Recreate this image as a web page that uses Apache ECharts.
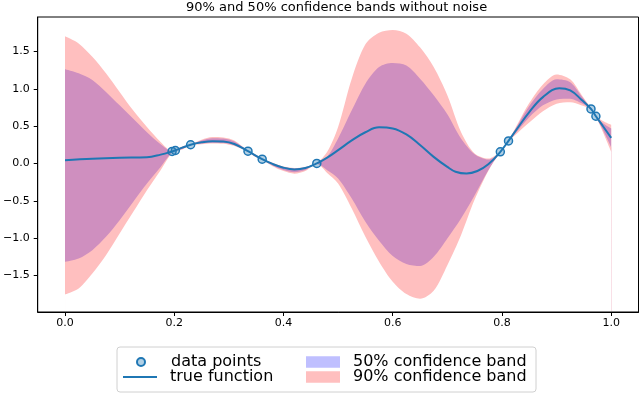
<!DOCTYPE html>
<html><head><meta charset="utf-8">
<script src="https://cdn.jsdelivr.net/npm/echarts@6/dist/echarts.min.js"></script>
<style>html,body{margin:0;padding:0;background:#fff}#c{width:640px;height:393px}</style>
</head><body><div id="c"></div>
<script>
const xs = [0,0.025,0.05,0.075,0.1,0.125,0.15,0.175,0.196,0.202,0.215,0.23,0.25,0.27,0.29,0.31,0.335,0.348,0.361,0.38,0.40,0.42,0.44,0.461,0.48,0.50,0.525,0.55,0.575,0.60,0.625,0.65,0.675,0.70,0.725,0.75,0.775,0.797,0.812,0.83,0.85,0.875,0.90,0.925,0.945,0.963,0.972,0.985,1.0];
const hi90 = [1.705,1.61,1.43,1.21,0.96,0.71,0.49,0.29,0.17,0.185,0.23,0.258,0.32,0.355,0.35,0.31,0.172,0.125,0.064,0.01,-0.04,-0.06,-0.045,0.006,0.157,0.491,1.138,1.598,1.754,1.790,1.741,1.558,1.294,0.916,0.424,0.134,0.067,0.162,0.31,0.55,0.81,1.06,1.195,1.13,0.93,0.74,0.642,0.57,0.52];
const hi50 = [1.264,1.21,1.12,0.96,0.78,0.60,0.42,0.26,0.167,0.182,0.225,0.256,0.31,0.34,0.335,0.295,0.17,0.12,0.062,0.005,-0.045,-0.065,-0.05,0.004,0.09,0.335,0.714,1.071,1.294,1.348,1.313,1.138,0.916,0.661,0.335,0.125,0.054,0.16,0.308,0.53,0.77,1.0,1.13,1.09,0.91,0.737,0.639,0.54,0.47];
const lo50 = [-1.316,-1.272,-1.16,-0.982,-0.759,-0.513,-0.268,-0.045,0.155,0.172,0.195,0.248,0.27,0.28,0.275,0.245,0.162,0.095,0.055,-0.025,-0.085,-0.115,-0.085,-0.004,-0.089,-0.200,-0.468,-0.780,-1.035,-1.240,-1.347,-1.374,-1.249,-1.004,-0.736,-0.424,-0.089,0.153,0.30,0.45,0.62,0.78,0.86,0.87,0.81,0.727,0.629,0.45,0.22];
const lo90 = [-1.753,-1.673,-1.473,-1.227,-0.937,-0.647,-0.357,-0.089,0.152,0.168,0.19,0.245,0.26,0.27,0.265,0.235,0.158,0.09,0.052,-0.035,-0.10,-0.135,-0.10,-0.006,-0.125,-0.268,-0.602,-0.982,-1.316,-1.584,-1.749,-1.812,-1.705,-1.361,-0.959,-0.482,-0.098,0.15,0.295,0.42,0.55,0.70,0.80,0.82,0.78,0.722,0.624,0.42,0.16];
const trueX = [0,0.05,0.1,0.15,0.175,0.196,0.202,0.23,0.25,0.27,0.29,0.31,0.335,0.361,0.38,0.40,0.42,0.44,0.461,0.48,0.50,0.525,0.55,0.575,0.60,0.625,0.65,0.675,0.70,0.715,0.735,0.755,0.775,0.797,0.812,0.83,0.85,0.875,0.905,0.925,0.945,0.963,0.972,0.985,1.0];
const trueY = [0.045,0.065,0.078,0.085,0.12,0.162,0.178,0.252,0.285,0.300,0.295,0.262,0.166,0.059,-0.005,-0.055,-0.078,-0.06,0.002,0.08,0.18,0.31,0.42,0.485,0.47,0.39,0.25,0.09,-0.045,-0.11,-0.134,-0.10,-0.01,0.157,0.304,0.49,0.69,0.89,1.01,0.98,0.86,0.732,0.634,0.50,0.345];
const ptsX = [0.196,0.202,0.230,0.335,0.361,0.461,0.797,0.812,0.963,0.972];
const ptsY = [0.162,0.175,0.252,0.166,0.059,0.002,0.157,0.304,0.732,0.634];
const xTicks = [0,0.2,0.4,0.6,0.8,1.0];
const yTicks = [-1.5,-1,-0.5,0,0.5,1,1.5];
const titleText = '90% and 50% confidence bands without noise';

const FONT = 'DejaVu Sans';
const pair = a => xs.map((x,i)=>[x,a[i]]);
const fmt = v => (v<0?'\u2212':'') + Math.abs(v).toFixed(1);
const SM = 0.3;
const BASE = -1.975; // fill base just above the bottom spine
const PINK = '#ffbfbf', PURPLE = '#cf8fbf', LAV = '#bfbfff';

function edge(name, arr, fill) {
  return {name, type:'line', data:pair(arr), symbol:'none', smooth:SM, silent:true,
    lineStyle:{opacity:0}, itemStyle:{color:fill}, areaStyle:{color:fill, opacity:1, origin:BASE}, z:2};
}

const chart = echarts.init(document.getElementById('c'), null, {renderer:'canvas'});
const legendBase = {orient:'vertical', padding:0, itemGap:0, itemWidth:34, formatter: n => '\u2002' + n,
  textStyle:{fontFamily:FONT, fontSize:16, lineHeight:15, color:'#000'}, selectedMode:false, z:10};
chart.setOption({
  animation:false,
  title:{text:titleText, left:186, top:0, padding:[1,0,0,0],
    textStyle:{fontFamily:FONT, fontSize:13, fontWeight:'normal', color:'#000'}},
  grid:{left:33.5, right:1.5, top:17, bottom:81, show:true, borderColor:'#000', borderWidth:1, backgroundColor:'transparent'},
  xAxis:{type:'value', min:-0.05, max:1.05, z:10,
    axisLine:{onZero:false, lineStyle:{color:'#000', width:1}},
    axisTick:{length:4, lineStyle:{color:'#000'}, customValues:xTicks},
    axisLabel:{customValues:xTicks, formatter:fmt, margin:6, fontFamily:FONT, fontSize:11, color:'#000'},
    splitLine:{show:false}},
  yAxis:{type:'value', min:-1.989, max:1.964, z:10,
    axisLine:{show:true, onZero:false, lineStyle:{color:'#000', width:1}},
    axisTick:{show:true, length:4, lineStyle:{color:'#000'}, customValues:yTicks},
    axisLabel:{customValues:yTicks, formatter:fmt, margin:8, fontFamily:FONT, fontSize:11, color:'#000'},
    splitLine:{show:false}},
  legend:[
    Object.assign({}, legendBase, {left:136, top:354, itemHeight:8, data:[{name:'data points', icon:'circle'}]}),
    Object.assign({}, legendBase, {left:123, top:369, itemHeight:2, data:[{name:'true function', icon:'rect', itemStyle:{color:'#1f77b4'}}]}),
    Object.assign({}, legendBase, {left:306, top:354, itemHeight:11.5, data:[{name:'50% confidence band', icon:'rect', itemStyle:{color:LAV}}]}),
    Object.assign({}, legendBase, {left:306, top:369, itemHeight:11.5, data:[{name:'90% confidence band', icon:'rect', itemStyle:{color:PINK}}]})
  ],
  graphic:[{type:'rect', shape:{x:117, y:347, width:419, height:45, r:3}, style:{fill:'#fff', stroke:'#d0d0d0', lineWidth:1}, z:1}],
  series:[
    edge('90% confidence band', hi90, PINK),
    edge('50% confidence band', hi50, PURPLE),
    edge('lo50', lo50, PINK),
    edge('lo90', lo90, '#ffffff'),
    {name:'true function', type:'line', data:trueX.map((x,i)=>[x,trueY[i]]), symbol:'none', smooth:0.4,
      lineStyle:{color:'#1f77b4', width:2}, itemStyle:{color:'#1f77b4'}, z:3},
    {name:'data points', type:'scatter', data:ptsX.map((x,i)=>[x,ptsY[i]]), symbol:'circle', symbolSize:8,
      itemStyle:{color:'rgba(31,119,180,0.35)', borderColor:'#1f77b4', borderWidth:1.5, opacity:1}, z:4}
  ]
});
</script>
</body></html>
